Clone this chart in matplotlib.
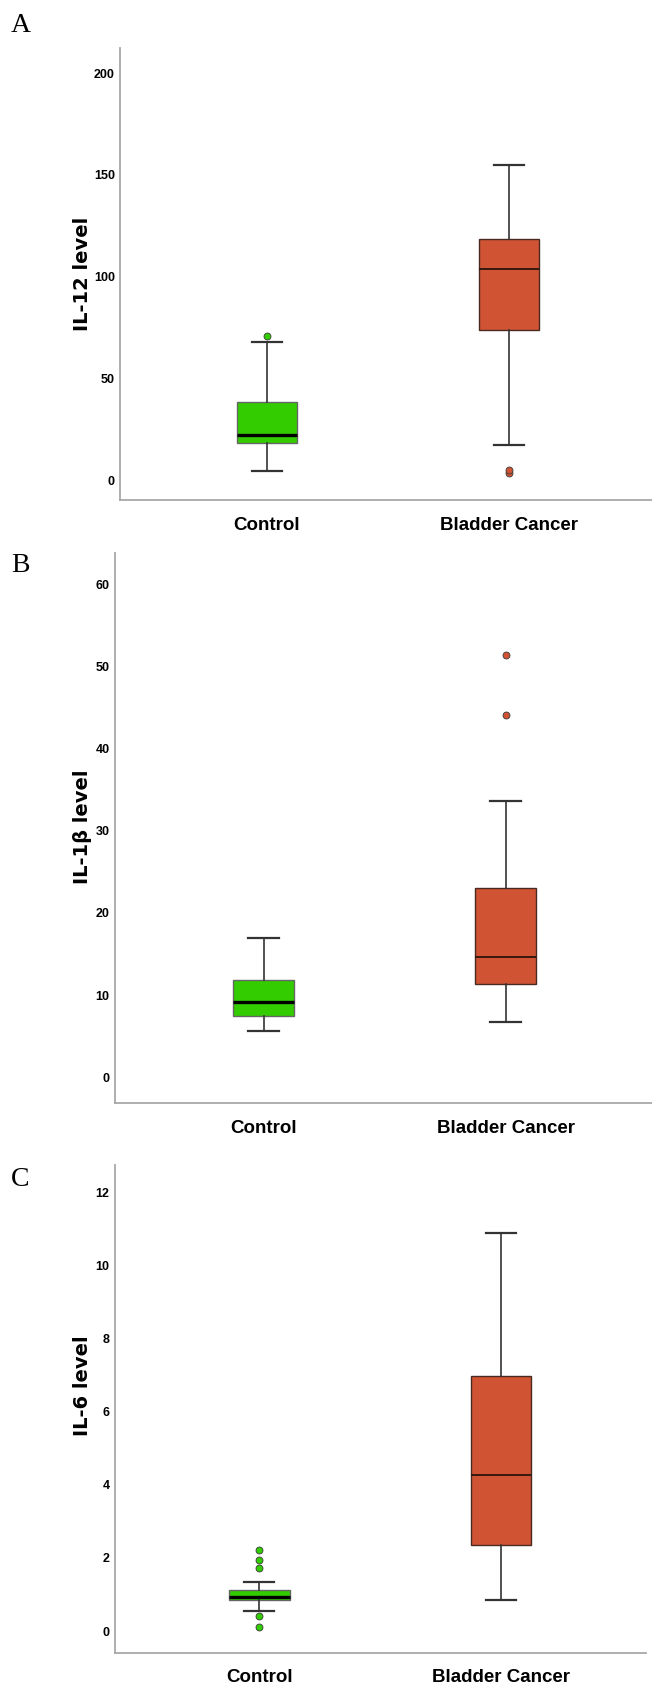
import matplotlib
matplotlib.use("Agg")
import matplotlib.pyplot as plt

W, H = 652, 1687
DPI = 100

groups = ["Control", "Bladder Cancer"]

# Panel A: IL-12 level  [whislo, q1, med, q3, whishi]
il12_control = [4.4, 18.0, 22.2, 38.3, 68.0]
il12_control_fliers = [70.8]
il12_bladder = [17.3, 73.9, 103.9, 118.7, 155.1]
il12_bladder_fliers = [3.6, 5.0]
il12_ticks = [0, 50, 100, 150, 200]

# Panel B: IL-1beta level
il1b_control = [5.6, 7.4, 9.2, 11.8, 16.9]
il1b_control_fliers = []
il1b_bladder = [6.7, 11.3, 14.6, 23.0, 33.6]
il1b_bladder_fliers = [44.1, 51.4]
il1b_ticks = [0, 10, 20, 30, 40, 50, 60]

# Panel C: IL-6 level
il6_control = [0.54, 0.85, 0.94, 1.12, 1.34]
il6_control_fliers = [2.21, 1.93, 1.72, 0.41, 0.11]
il6_bladder = [0.85, 2.36, 4.27, 6.96, 10.87]
il6_bladder_fliers = []
il6_ticks = [0, 2, 4, 6, 8, 10, 12]

GREEN = "#33CC00"
RED = "#D05434"
NARROW = ["Liberation Sans Narrow", "Liberation Sans", "DejaVu Sans"]

fig = plt.figure(figsize=(W / DPI, H / DPI), dpi=DPI)


def add_ax(left, right, top, bottom):
    return fig.add_axes([left / W, 1 - bottom / H, (right - left) / W, (bottom - top) / H])


def make_stats(v, fl, label):
    return dict(whislo=v[0], q1=v[1], med=v[2], q3=v[3], whishi=v[4], fliers=fl, label=label)


def panel(ax, ctrl, ctrl_f, bc, bc_f, ticks, ylim, xlim, ylabel, ylab_xy, letter, letter_xy):
    stats = [make_stats(ctrl, ctrl_f, groups[0]), make_stats(bc, bc_f, groups[1])]
    bp = ax.bxp(stats, positions=[0, 1], widths=0.25, patch_artist=True,
                showfliers=True, capwidths=0.125)
    colors = [GREEN, RED]
    for i, box in enumerate(bp["boxes"]):
        box.set_facecolor(colors[i])
        box.set_edgecolor("#666666" if i == 0 else "#4a2a20")
        box.set_linewidth(1.0)
    for i, med in enumerate(bp["medians"]):
        med.set_color("#000000" if i == 0 else "#2a140c")
        med.set_linewidth(2.4 if i == 0 else 1.3)
    for w in bp["whiskers"]:
        w.set_color("#333333")
        w.set_linewidth(1.2)
    for c in bp["caps"]:
        c.set_color("#333333")
        c.set_linewidth(1.6)
    for i, f in enumerate(bp["fliers"]):
        f.set_marker("o")
        f.set_markerfacecolor(colors[i])
        f.set_markeredgecolor("#3a3a3a")
        f.set_markeredgewidth(0.6)
        f.set_markersize(5)
    ax.set_ylim(*ylim)
    ax.set_xlim(*xlim)
    ax.set_yticks(ticks)
    ax.set_yticklabels([str(t) for t in ticks], fontfamily=NARROW, fontweight="bold", fontsize=9)
    ax.set_xticks([0, 1])
    ax.set_xticklabels(groups, fontfamily=NARROW, fontweight="bold", fontsize=13.5)
    ax.tick_params(axis="both", length=0)
    ax.tick_params(axis="y", pad=4)
    ax.tick_params(axis="x", pad=12)
    for s in ["top", "right"]:
        ax.spines[s].set_visible(False)
    for s in ["left", "bottom"]:
        ax.spines[s].set_color("#a8a8a8")
        ax.spines[s].set_linewidth(1.3)
    ax.set_ylabel(ylabel, fontfamily="DejaVu Sans", fontweight="bold", fontsize=14)
    ax.yaxis.set_label_coords(ylab_xy[0] / W, 1 - ylab_xy[1] / H, transform=fig.transFigure)
    ax.yaxis.label.set_verticalalignment("center")
    fig.text(letter_xy[0] / W, 1 - letter_xy[1] / H, letter, fontfamily=["Liberation Serif", "DejaVu Serif"],
             fontsize=20, ha="center", va="center")


# Panel A
axA = add_ax(120.5, 652, 48, 500)
panel(axA, il12_control, il12_control_fliers, il12_bladder, il12_bladder_fliers, il12_ticks,
      ylim=(-9.8, 212.4), xlim=(-0.605, 1.59), ylabel="IL-12 level", ylab_xy=(83, 274),
      letter="A", letter_xy=(21, 25))

# Panel B
axB = add_ax(115, 652, 553, 1103)
panel(axB, il1b_control, il1b_control_fliers, il1b_bladder, il1b_bladder_fliers, il1b_ticks,
      ylim=(-3.14, 63.8), xlim=(-0.614, 1.605), ylabel="IL-1β level", ylab_xy=(83, 827),
      letter="B", letter_xy=(20, 566))

# Panel C
axC = add_ax(115, 645.5, 1165, 1652.6)
panel(axC, il6_control, il6_control_fliers, il6_bladder, il6_bladder_fliers, il6_ticks,
      ylim=(-0.59, 12.74), xlim=(-0.598, 1.60), ylabel="IL-6 level", ylab_xy=(83, 1386),
      letter="C", letter_xy=(20, 1180))

fig.savefig("out.png", dpi=DPI)
